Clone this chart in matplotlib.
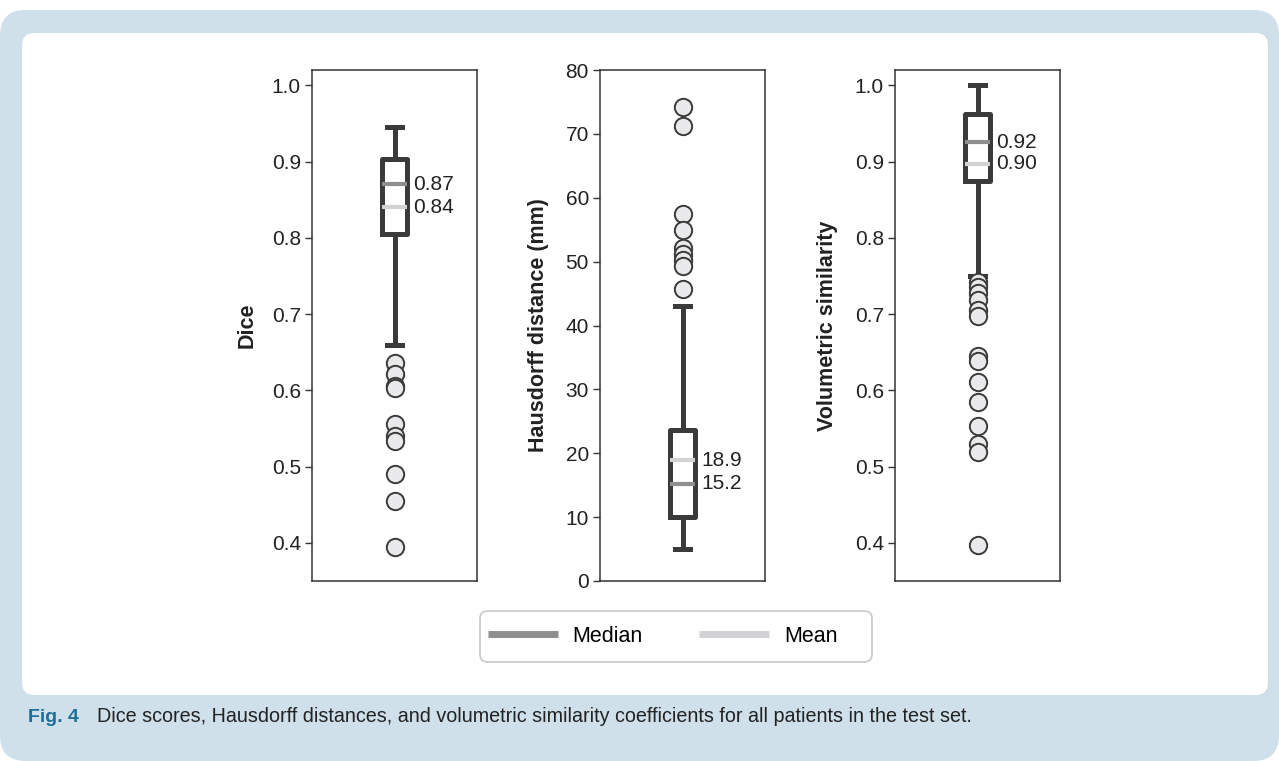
import matplotlib
matplotlib.use("Agg")
import matplotlib.pyplot as plt
from matplotlib.patches import FancyBboxPatch
from matplotlib.lines import Line2D

plt.rcParams['font.family'] = ['Liberation Sans', 'DejaVu Sans']

# box statistics
metrics = ["Dice", "Hausdorff distance (mm)", "Volumetric similarity"]
medians = [0.87, 15.2, 0.925]
means = [0.84, 18.9, 0.897]
q1 = [0.805, 10.0, 0.875]
q3 = [0.903, 23.7, 0.962]
whisk_lo = [0.66, 5.0, 0.75]
whisk_hi = [0.945, 43.0, 1.0]
median_labels = ["0.87", "15.2", "0.92"]
mean_labels = ["0.84", "18.9", "0.90"]

dice_fliers = [0.636, 0.622, 0.606, 0.603, 0.556, 0.540, 0.534, 0.490, 0.455, 0.395]
hd_fliers = [74.2, 71.3, 57.5, 55.0, 52.2, 51.2, 50.2, 49.3, 45.7]
vs_fliers = [0.742, 0.735, 0.728, 0.718, 0.705, 0.697, 0.645, 0.638, 0.611,
             0.585, 0.553, 0.530, 0.519, 0.397]
fliers = [dice_fliers, hd_fliers, vs_fliers]

ylims = [(0.35, 1.02), (0, 80), (0.35, 1.02)]
yticks = [[0.4, 0.5, 0.6, 0.7, 0.8, 0.9, 1.0],
          [0, 10, 20, 30, 40, 50, 60, 70, 80],
          [0.4, 0.5, 0.6, 0.7, 0.8, 0.9, 1.0]]
ytick_fmt = ["{:.1f}", "{:.0f}", "{:.1f}"]

W, H = 1279, 761
fig = plt.figure(figsize=(W / 100, H / 100), dpi=100)

# background panels
fig.add_artist(FancyBboxPatch((0, 0), 1, 1 - 10 / H, boxstyle="round,pad=0,rounding_size=0.02",
                              transform=fig.transFigure, facecolor="#cfe0ea", edgecolor="none",
                              mutation_aspect=W / H, zorder=-10))
fig.add_artist(FancyBboxPatch((22 / W, 1 - 695 / H), (1268 - 22) / W, (695 - 33) / H,
                              boxstyle="round,pad=0,rounding_size=0.01",
                              transform=fig.transFigure, facecolor="white", edgecolor="none",
                              mutation_aspect=W / H, zorder=-9))

dark = "#3a3a3a"
med_col = "#8f8f91"
mean_col = "#d2d2d4"
ax_left = [312, 600, 895]
ax_w = 165
ax_top, ax_bot = 70, 581
fs = 15

for i in range(3):
    ax = fig.add_axes([ax_left[i] / W, 1 - ax_bot / H, ax_w / W, (ax_bot - ax_top) / H])
    ax.patch.set_alpha(0)
    stats = [dict(med=medians[i], q1=q1[i], q3=q3[i], whislo=whisk_lo[i],
                  whishi=whisk_hi[i], fliers=fliers[i], mean=means[i])]
    ax.bxp(stats, positions=[1], widths=0.15, showmeans=True, meanline=True,
           boxprops=dict(color=dark, linewidth=3.6),
           whiskerprops=dict(color=dark, linewidth=3.6),
           capprops=dict(color=dark, linewidth=3.6),
           capwidths=0.085,
           medianprops=dict(color=med_col, linewidth=3.0),
           meanprops=dict(color=mean_col, linewidth=3.0, linestyle='-'),
           flierprops=dict(marker='o', markersize=12.5, markerfacecolor="#e9e9eb",
                           markeredgecolor=dark, markeredgewidth=1.4))
    ax.set_xlim(0.5, 1.5)
    ax.set_ylim(*ylims[i])
    ax.set_yticks(yticks[i])
    ax.set_yticklabels([ytick_fmt[i].format(t) for t in yticks[i]])
    ax.set_xticks([])
    ax.tick_params(axis='y', labelsize=fs, length=5, width=1, color="#333333",
                   labelcolor="#222222", pad=3)
    for s in ax.spines.values():
        s.set_color("#333333")
        s.set_linewidth(1.1)
    ax.set_ylabel(metrics[i], fontsize=15.5, fontweight='bold', color="#222222",
                  labelpad=[10, 12, 12][i])
    for val, lab in [(medians[i], median_labels[i]), (means[i], mean_labels[i])]:
        ax.annotate(lab, xy=(1.09, val), xytext=(3, 0), textcoords='offset points',
                    va='center', ha='left', fontsize=fs, color="#222222")

# legend with its own rounded frame
fig.add_artist(FancyBboxPatch((480 / W, 1 - 662 / H), (872 - 480) / W, (662 - 611) / H,
                              boxstyle="round,pad=0,rounding_size=0.006",
                              transform=fig.transFigure, facecolor="white", edgecolor="#cccccc",
                              linewidth=1.3, mutation_aspect=W / H))
handles = [Line2D([], [], color=med_col, linewidth=5, solid_capstyle='butt'),
           Line2D([], [], color=mean_col, linewidth=5, solid_capstyle='butt')]
leg = fig.legend(handles, ["Median", "Mean"], loc='center left',
                 bbox_to_anchor=(480 / W, 1 - 636.5 / H),
                 ncol=2, fontsize=15.5, handlelength=3.25, columnspacing=2.6, handletextpad=0.7,
                 frameon=False, borderpad=0.35, borderaxespad=0)

# caption
fig.text(28 / W, 1 - 717 / H, "Fig. 4", fontsize=14, fontweight='bold', color="#1d6f99",
         va='center', ha='left')
fig.text(97 / W, 1 - 717 / H,
         "Dice scores, Hausdorff distances, and volumetric similarity coefficients for all patients in the test set.",
         fontsize=14.2, color="#222222", va='center', ha='left')

fig.savefig("out.png", dpi=100)
